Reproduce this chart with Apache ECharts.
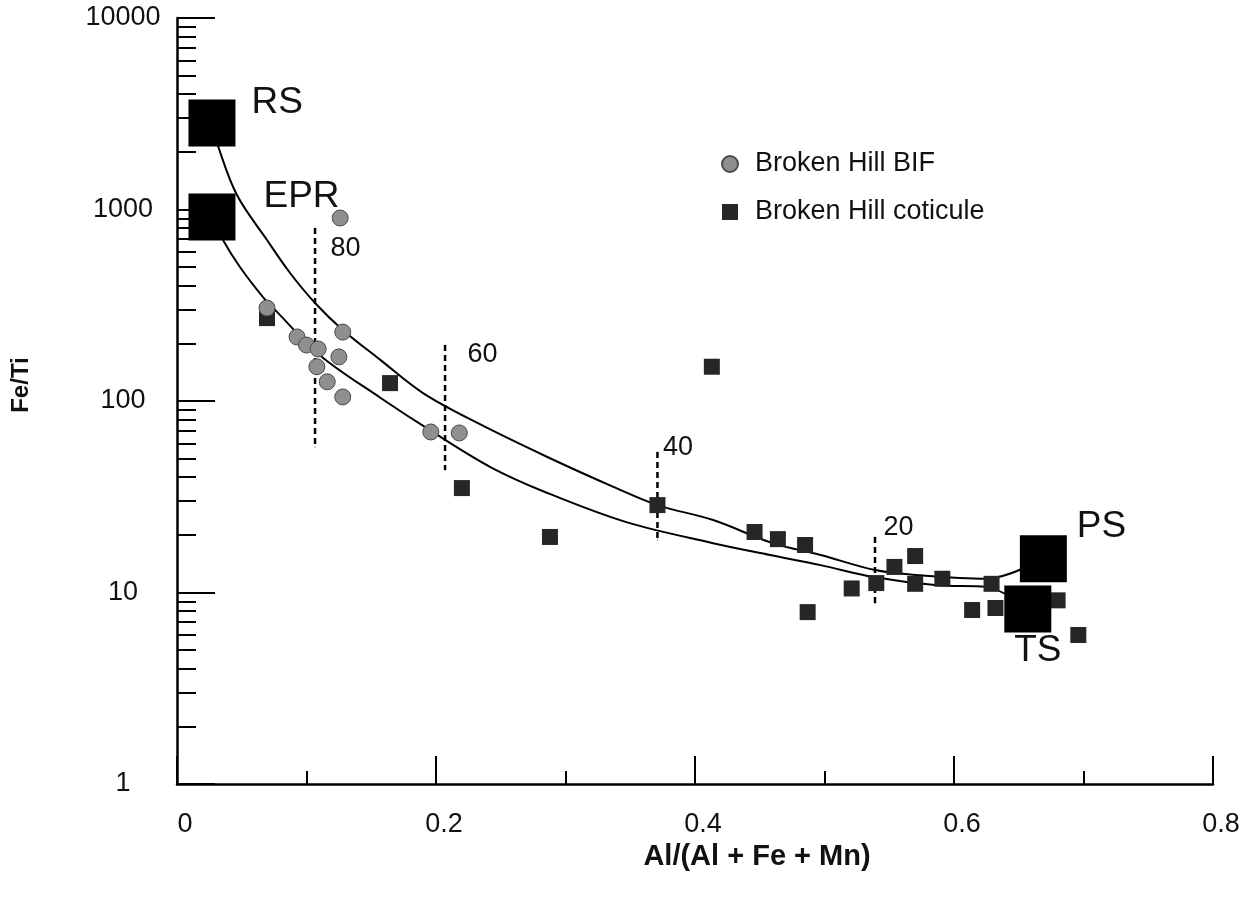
<!DOCTYPE html>
<html>
<head>
<meta charset="utf-8">
<script src="https://cdn.jsdelivr.net/npm/echarts@6/dist/echarts.min.js"></script>
<style>
html,body{margin:0;padding:0;background:#fff;}
#chart{width:1260px;height:901px;}
</style>
</head>
<body>
<div id="chart"></div>
<script>
// ---------------- data ----------------
const bifX = [0.0695, 0.0927, 0.100, 0.109, 0.108, 0.116, 0.128, 0.125, 0.128, 0.196, 0.218, 0.126];
const bifY = [306, 216, 196, 187, 151, 126, 229, 170, 105, 68.9, 68.1, 903];

const cotX = [0.0695, 0.1645, 0.220, 0.288, 0.371, 0.413, 0.446, 0.464, 0.485, 0.487, 0.521,
              0.540, 0.554, 0.570, 0.570, 0.591, 0.614, 0.629, 0.632, 0.680, 0.696];
const cotY = [271, 124, 35.1, 19.5, 28.6, 151, 20.7, 19.0, 17.7, 7.9, 10.5,
              11.2, 13.6, 15.5, 11.1, 11.8, 8.1, 11.1, 8.3, 9.1, 6.0];

const endNames = ['RS', 'EPR', 'PS', 'TS'];
const endX = [0.027, 0.027, 0.669, 0.657];
const endY = [2830, 914, 15.0, 8.2];

// mixing curve RS -> PS
const upperX = [0.027, 0.0317, 0.0463, 0.0695, 0.0873, 0.1066, 0.128, 0.157, 0.190, 0.232,
                0.286, 0.337, 0.371, 0.414, 0.460, 0.497, 0.539, 0.574, 0.625, 0.669];
const upperY = [2830, 2147, 1190, 693, 466, 325, 235, 164, 110, 76.8,
                51, 35.6, 28.6, 23.9, 18.1, 15.7, 13.1, 12.3, 11.8, 15.0];
// mixing curve EPR -> TS
const lowerX = [0.027, 0.0355, 0.0486, 0.0664, 0.0772, 0.110, 0.157, 0.195, 0.242, 0.286,
                0.347, 0.414, 0.458, 0.497, 0.539, 0.587, 0.625, 0.657];
const lowerY = [914, 693, 501, 349, 292, 174, 104, 70.6, 45.2, 33.1,
                23.3, 18.1, 15.7, 13.9, 12.0, 10.9, 10.7, 8.2];

// percentage markers (dashed)
const mixLabels = ['80', '60', '40', '20'];
const mixX = [0.1066, 0.207, 0.371, 0.539];
const mixTop = [800, 196, 54.2, 19.5];
const mixBottom = [57.5, 43.6, 18.8, 8.8];

const yMajorTicks = [1, 10, 100, 1000, 10000];
const yMinorTicks = [];
[1, 10, 100, 1000].forEach(d => { for (let k = 2; k <= 9; k++) yMinorTicks.push(k * d); });

const legendNames = ['Broken Hill BIF', 'Broken Hill coticule'];

// ---------------- styles ----------------
const FONT = '"Liberation Sans", Arial, Helvetica, sans-serif';
const mixLabelOffsets = [[15, 20], [22, 10], [5, -4], [8, -9]];
const endLabelPos = ['right', 'right', 'right', 'bottom'];
const endLabelOffsets = [[16, -20], [28, -20], [10, -32], [10, 0]];

const zip = (a, b) => a.map((v, i) => [v, b[i]]);

const series = [];
series.push({
  type: 'line', data: zip(upperX, upperY), symbol: 'none', smooth: 0.35, silent: true,
  lineStyle: { color: '#000', width: 2 }, z: 2
});
series.push({
  type: 'line', data: zip(lowerX, lowerY), symbol: 'none', smooth: 0.35, silent: true,
  lineStyle: { color: '#000', width: 2 }, z: 2
});
mixX.forEach((x, i) => {
  series.push({
    type: 'line', symbol: 'circle', symbolSize: 1, showSymbol: true, silent: true, z: 2,
    itemStyle: { color: '#000' },
    lineStyle: { color: '#000', width: 2.5, type: [6, 4] },
    data: [
      { value: [x, mixTop[i]], label: { show: true, formatter: mixLabels[i], position: 'right', distance: 0,
        offset: mixLabelOffsets[i], fontFamily: FONT, fontSize: 27, color: '#111' } },
      { value: [x, mixBottom[i]], label: { show: false } }
    ]
  });
});
series.push({
  name: legendNames[1], type: 'scatter', symbol: 'rect', symbolSize: 16, z: 3,
  itemStyle: { color: '#262626', opacity: 1 },
  data: zip(cotX, cotY)
});
series.push({
  name: legendNames[0], type: 'scatter', symbol: 'circle', symbolSize: 16, z: 4,
  itemStyle: { color: '#8f8f8f', borderColor: '#4a4a4a', borderWidth: 1, opacity: 1 },
  data: zip(bifX, bifY)
});
series.push({
  type: 'scatter', symbol: 'rect', symbolSize: 47, z: 5, silent: true,
  itemStyle: { color: '#000', opacity: 1 },
  data: endX.map((x, i) => ({
    value: [x, endY[i]],
    label: { show: true, formatter: endNames[i], position: endLabelPos[i], distance: 0,
      offset: endLabelOffsets[i], fontFamily: FONT, fontSize: 37, color: '#111' }
  }))
});

const gridBox = { left: 177, right: 47, top: 18, bottom: 117 };

const option = {
  animation: false,
  backgroundColor: '#fff',
  grid: [Object.assign({}, gridBox), Object.assign({}, gridBox)],
  legend: {
    data: legendNames.map(n => ({ name: n })),
    orient: 'vertical', left: 721, top: 148, padding: 0,
    itemWidth: 16, itemHeight: 16, itemGap: 16,
    textStyle: { fontFamily: FONT, fontSize: 27, color: '#111', lineHeight: 32, padding: [0, 0, 0, 12] },
    selectedMode: false
  },
  xAxis: [{
    type: 'value', min: 0, max: 0.8, interval: 0.2,
    name: 'Al/(Al + Fe + Mn)', nameLocation: 'middle', nameGap: 57,
    nameTextStyle: { fontFamily: FONT, fontSize: 29, fontWeight: 'bold', color: '#111', padding: [0, 0, 0, 124] },
    axisLine: { lineStyle: { color: '#000', width: 2.5 } },
    axisTick: { inside: true, length: 28, lineStyle: { color: '#000', width: 2 } },
    minorTick: { show: true, splitNumber: 2, length: 13, lineStyle: { color: '#000', width: 2 } },
    splitLine: { show: false },
    axisLabel: { fontFamily: FONT, fontSize: 27, color: '#111', margin: 27, padding: [0, 0, 0, 16] }
  }, {
    gridIndex: 1, type: 'value', min: 0, max: 1, show: false
  }],
  yAxis: [{
    type: 'log', logBase: 10, min: yMajorTicks[0], max: yMajorTicks[yMajorTicks.length - 1],
    name: 'Fe/Ti', nameLocation: 'middle', nameRotate: 90, nameGap: 144,
    nameTextStyle: { fontFamily: FONT, fontSize: 24, fontWeight: 'bold', color: '#111', padding: [0, 0, 0, 32] },
    axisLine: { lineStyle: { color: '#000', width: 2.5 } },
    axisTick: { inside: true, length: 38, lineStyle: { color: '#000', width: 2 } },
    splitLine: { show: false },
    axisLabel: { fontFamily: FONT, fontSize: 27, color: '#111', align: 'center', margin: 54,
      padding: [0, 0, 10, 0], formatter: v => String(Math.round(v)) }
  }, {
    gridIndex: 1, type: 'value', min: 0, max: 4, position: 'left',
    axisLine: { show: false }, axisLabel: { show: false }, splitLine: { show: false },
    axisTick: { show: true, inside: true, length: 19, lineStyle: { color: '#000', width: 2 },
      customValues: yMinorTicks.map(v => Math.log10(v)) }
  }],
  series: series
};

const chart = echarts.init(document.getElementById('chart'), null, { renderer: 'canvas' });
chart.setOption(option);
</script>
</body>
</html>
